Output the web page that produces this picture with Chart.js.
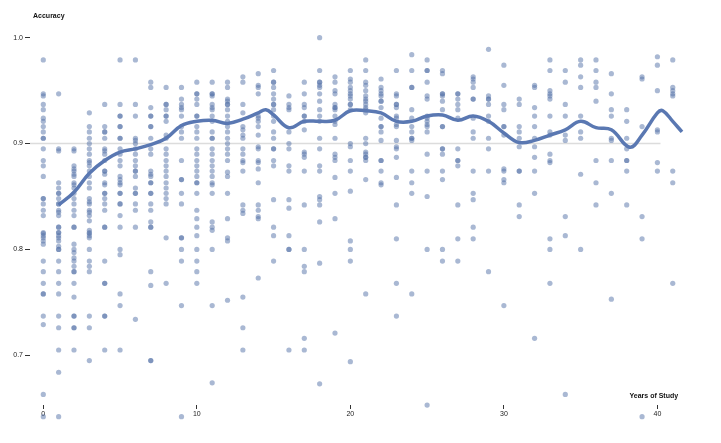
<!DOCTYPE html>
<html>
<head>
<meta charset="utf-8">
<script src="https://cdn.jsdelivr.net/npm/chart.js@4.4.0/dist/chart.umd.min.js"></script>
<style>
  html, body { margin: 0; padding: 0; background: #fff; }
  #wrap { width: 721px; height: 443px; position: relative; }
</style>
</head>
<body>
<div id="wrap"><canvas id="accuracy-chart"></canvas></div>
<script>
// one list of accuracy scores per year of study (0..41)
const years = [];
for (let i = 0; i <= 41; i++) years.push(i);

const accuracyByYear = [
  [0.979,0.947,0.945,0.937,0.932,0.924,0.921,0.916,0.911,0.905,0.905,0.895,0.884,0.879,0.869,0.848,0.848,0.843,0.837,0.832,0.816,0.815,0.813,0.811,0.808,0.805,0.789,0.779,0.768,0.758,0.758,0.737,0.729,0.663,0.642],
  [0.947,0.895,0.893,0.863,0.858,0.853,0.853,0.848,0.843,0.843,0.837,0.835,0.832,0.821,0.821,0.816,0.816,0.813,0.811,0.808,0.803,0.8,0.8,0.789,0.779,0.768,0.758,0.737,0.726,0.705,0.684,0.642],
  [0.895,0.893,0.879,0.876,0.874,0.871,0.869,0.863,0.861,0.858,0.853,0.848,0.843,0.837,0.832,0.821,0.821,0.805,0.8,0.797,0.792,0.789,0.784,0.779,0.779,0.768,0.755,0.737,0.737,0.726,0.726,0.705],
  [0.929,0.916,0.911,0.905,0.9,0.895,0.89,0.884,0.882,0.879,0.874,0.869,0.863,0.858,0.848,0.845,0.843,0.837,0.835,0.832,0.827,0.818,0.816,0.815,0.813,0.811,0.8,0.789,0.784,0.779,0.737,0.726,0.695],
  [0.937,0.916,0.911,0.911,0.905,0.895,0.893,0.89,0.884,0.874,0.874,0.871,0.863,0.861,0.853,0.853,0.848,0.843,0.837,0.821,0.821,0.789,0.768,0.768,0.737,0.737,0.705],
  [0.979,0.937,0.926,0.926,0.916,0.916,0.905,0.905,0.895,0.89,0.884,0.879,0.869,0.866,0.863,0.861,0.853,0.853,0.843,0.843,0.832,0.821,0.8,0.795,0.758,0.747,0.705],
  [0.979,0.937,0.926,0.905,0.903,0.9,0.895,0.89,0.884,0.879,0.874,0.874,0.869,0.858,0.853,0.853,0.843,0.837,0.821,0.734],
  [0.958,0.953,0.934,0.926,0.926,0.916,0.916,0.905,0.895,0.89,0.874,0.871,0.869,0.863,0.863,0.853,0.853,0.843,0.837,0.826,0.821,0.821,0.779,0.766,0.695,0.695],
  [0.953,0.937,0.937,0.932,0.926,0.926,0.921,0.908,0.905,0.895,0.89,0.884,0.879,0.874,0.869,0.863,0.858,0.853,0.848,0.843,0.811,0.768],
  [0.953,0.942,0.937,0.934,0.932,0.926,0.916,0.911,0.905,0.884,0.866,0.866,0.853,0.843,0.811,0.811,0.8,0.789,0.747,0.642],
  [0.958,0.947,0.947,0.942,0.937,0.926,0.926,0.916,0.911,0.905,0.895,0.89,0.884,0.879,0.874,0.869,0.863,0.863,0.853,0.837,0.829,0.821,0.813,0.8,0.789,0.779,0.768],
  [0.958,0.947,0.947,0.945,0.937,0.934,0.932,0.926,0.921,0.911,0.905,0.905,0.895,0.89,0.884,0.879,0.874,0.869,0.863,0.861,0.853,0.826,0.821,0.818,0.8,0.747,0.674],
  [0.958,0.953,0.942,0.94,0.937,0.937,0.932,0.926,0.921,0.916,0.911,0.905,0.9,0.895,0.89,0.884,0.873,0.869,0.853,0.829,0.811,0.808,0.752],
  [0.963,0.958,0.937,0.929,0.916,0.913,0.908,0.905,0.895,0.89,0.884,0.882,0.874,0.842,0.837,0.834,0.755,0.726,0.705],
  [0.966,0.955,0.953,0.947,0.926,0.924,0.921,0.916,0.908,0.897,0.895,0.884,0.882,0.876,0.863,0.842,0.837,0.831,0.829,0.773],
  [0.969,0.958,0.958,0.953,0.947,0.942,0.937,0.937,0.932,0.926,0.921,0.911,0.905,0.895,0.895,0.884,0.879,0.847,0.821,0.813,0.789],
  [0.945,0.937,0.934,0.932,0.911,0.9,0.895,0.879,0.874,0.847,0.839,0.813,0.8,0.8,0.705],
  [0.958,0.947,0.937,0.934,0.926,0.926,0.921,0.913,0.892,0.89,0.887,0.874,0.842,0.8,0.784,0.779,0.716,0.705],
  [1.0,0.969,0.958,0.958,0.955,0.953,0.947,0.94,0.932,0.926,0.921,0.905,0.895,0.879,0.874,0.85,0.847,0.842,0.826,0.787,0.673],
  [0.963,0.958,0.95,0.947,0.937,0.934,0.934,0.932,0.926,0.921,0.918,0.905,0.89,0.887,0.884,0.868,0.853,0.829,0.721],
  [0.969,0.961,0.958,0.953,0.95,0.947,0.945,0.942,0.937,0.937,0.932,0.9,0.897,0.884,0.874,0.855,0.808,0.8,0.789,0.694],
  [0.979,0.969,0.958,0.955,0.95,0.945,0.942,0.94,0.937,0.934,0.932,0.929,0.905,0.9,0.892,0.89,0.887,0.887,0.884,0.866,0.758],
  [0.961,0.953,0.95,0.947,0.945,0.94,0.94,0.934,0.924,0.916,0.916,0.911,0.903,0.884,0.884,0.874,0.863,0.861],
  [0.969,0.947,0.945,0.937,0.937,0.934,0.926,0.924,0.918,0.916,0.903,0.897,0.895,0.887,0.868,0.842,0.81,0.768,0.737],
  [0.984,0.969,0.953,0.953,0.932,0.924,0.916,0.911,0.905,0.905,0.903,0.874,0.863,0.853,0.758],
  [0.979,0.969,0.969,0.958,0.945,0.942,0.926,0.924,0.921,0.918,0.916,0.911,0.89,0.874,0.85,0.8,0.653],
  [0.969,0.966,0.947,0.947,0.945,0.94,0.932,0.916,0.916,0.895,0.895,0.89,0.874,0.866,0.8,0.789],
  [0.947,0.947,0.942,0.937,0.932,0.924,0.895,0.884,0.884,0.879,0.842,0.81,0.789],
  [0.963,0.961,0.958,0.953,0.942,0.942,0.924,0.911,0.905,0.874,0.853,0.847,0.821,0.81],
  [0.989,0.945,0.942,0.942,0.937,0.926,0.921,0.905,0.895,0.874,0.779],
  [0.974,0.955,0.937,0.932,0.916,0.916,0.908,0.876,0.874,0.866,0.863,0.747],
  [0.942,0.937,0.916,0.911,0.905,0.897,0.874,0.874,0.842,0.831],
  [0.955,0.953,0.934,0.926,0.916,0.905,0.897,0.887,0.874,0.853,0.716],
  [0.979,0.969,0.95,0.947,0.945,0.942,0.926,0.911,0.908,0.89,0.884,0.882,0.81,0.8,0.768],
  [0.969,0.958,0.937,0.926,0.908,0.903,0.831,0.813,0.663],
  [0.979,0.974,0.963,0.953,0.926,0.911,0.905,0.871,0.8],
  [0.979,0.969,0.958,0.953,0.94,0.884,0.863,0.842],
  [0.966,0.947,0.932,0.926,0.905,0.903,0.884,0.853,0.753],
  [0.932,0.921,0.905,0.895,0.884,0.884,0.874,0.842],
  [0.963,0.961,0.916,0.831,0.81,0.642],
  [0.982,0.974,0.95,0.913,0.911,0.882,0.874],
  [0.979,0.953,0.95,0.947,0.945,0.874,0.863,0.768]
];

// smoothed trend
const trendYears    = [1, 2, 3, 4, 5, 6, 7, 8, 9, 10, 11, 12, 13, 14, 14.5, 15, 16, 17, 18, 19, 20, 21, 22, 23, 24, 25, 26, 27, 28, 29, 30, 31, 32, 33, 34, 35, 36, 37, 38.2, 39, 40, 40.35, 41, 41.6];
const trendAccuracy = [0.842, 0.854, 0.872, 0.884, 0.892, 0.895, 0.899, 0.905, 0.917, 0.921, 0.922, 0.919, 0.923, 0.929, 0.932, 0.927, 0.915, 0.921, 0.921, 0.922, 0.931, 0.931, 0.929, 0.921, 0.921, 0.926, 0.927, 0.922, 0.926, 0.921, 0.910, 0.901, 0.903, 0.908, 0.913, 0.921, 0.915, 0.913, 0.8965, 0.908, 0.929, 0.931, 0.921, 0.911];

// reference line at 0.9
const refYears = [-0.866, 40.2];
const refAccuracy = 0.9;

const xTickValues = [0, 10, 20, 30, 40];
const yTickValues = [0.7, 0.8, 0.9, 1.0];

const scatterPoints = [];
accuracyByYear.forEach(function(list, i) {
    list.forEach(function(v) {
        scatterPoints.push({ x: years[i], y: v });
    });
});
const trendPoints = trendYears.map((x, i) => ({ x: x, y: trendAccuracy[i] }));
const refPoints = refYears.map(x => ({ x: x, y: refAccuracy }));

const tickFont = { family: '"Liberation Sans", Arial, sans-serif', size: 7 };

const axisTitles = {
    id: 'axisTitles',
    afterDraw(chart) {
        const ctx = chart.ctx;
        const sx = chart.scales.x, sy = chart.scales.y;
        ctx.save();
        ctx.fillStyle = '#111';
        ctx.font = 'bold 7px "Liberation Sans", Arial, sans-serif';
        ctx.textBaseline = 'middle';
        ctx.textAlign = 'left';
        ctx.fillText('Accuracy', sx.getPixelForValue(-0.67), sy.getPixelForValue(1.0205));
        ctx.textAlign = 'right';
        ctx.fillText('Years of Study', sx.getPixelForValue(41.35), sy.getPixelForValue(0.6615));
        ctx.restore();
    }
};

const ctx_acc = document.getElementById('accuracy-chart').getContext('2d');
const accChart = new Chart(ctx_acc, {
    type: 'scatter',
    data: {
        datasets: [{
            type: 'line',
            label: 'Trend',
            data: trendPoints,
            borderColor: 'rgb(90,120,178)',
            borderWidth: 3.5,
            pointRadius: 0,
            tension: 0.4,
            fill: false,
            order: 0
        }, {
            label: 'Accuracy',
            data: scatterPoints,
            backgroundColor: 'rgba(83,113,167,0.5)',
            borderWidth: 0,
            pointRadius: 2.6,
            pointHoverRadius: 2.6,
            order: 1
        }, {
            type: 'line',
            label: 'Reference',
            data: refPoints,
            borderColor: '#dcdcdc',
            borderWidth: 1.5,
            pointRadius: 0,
            fill: false,
            order: 2
        }]
    },
    options: {
        responsive: true,
        maintainAspectRatio: false,
        animation: false,
        events: [],
        layout: { padding: { top: 32.4, bottom: 18.9, left: 0, right: 16 } },
        plugins: {
            legend: { display: false },
            tooltip: { enabled: false }
        },
        scales: {
            x: {
                type: 'linear',
                min: -0.866,
                max: 43.1,
                position: { y: 0.6531 },
                border: { display: false },
                grid: { drawOnChartArea: false, drawTicks: true, tickLength: 4, color: '#333', lineWidth: 1 },
                ticks: { padding: 1, font: tickFont, color: '#222', maxRotation: 0 },
                afterBuildTicks: s => { s.ticks = xTickValues.map(v => ({ value: v })); }
            },
            y: {
                min: 0.635,
                max: 1.005,
                border: { display: false },
                grid: { drawOnChartArea: false, drawTicks: true, tickLength: 5, color: '#333', lineWidth: 1 },
                ticks: { padding: 2, font: tickFont, color: '#222', callback: v => v.toFixed(1) },
                afterBuildTicks: s => { s.ticks = yTickValues.map(v => ({ value: v })); },
                afterFit: s => { s.width = 30; }
            }
        }
    },
    plugins: [axisTitles]
});
</script>
</body>
</html>
